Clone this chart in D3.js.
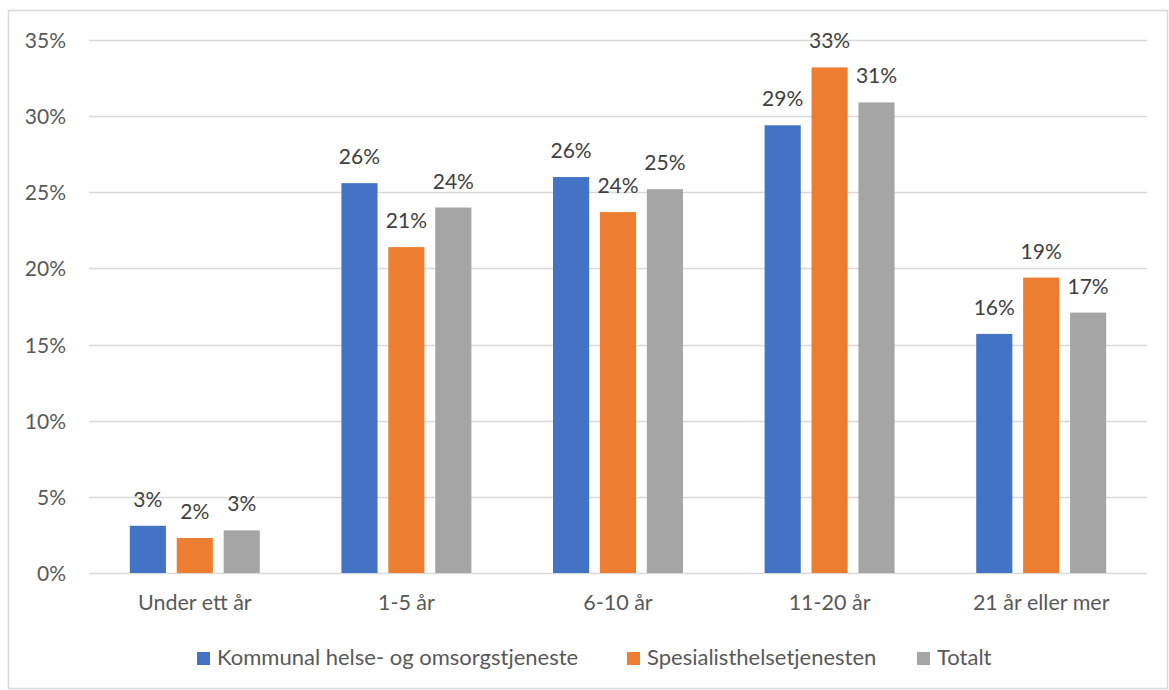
<!DOCTYPE html>
<html><head><meta charset="utf-8">
<script src="https://cdn.jsdelivr.net/npm/d3@7"></script>
<style>body{margin:0;background:#fff}svg{display:block}text{font-family:Lato,"Open Sans",sans-serif}</style>
</head><body>
<svg id="c" width="1169" height="690"></svg>
<script>
const categories = ["Under ett år","1-5 år","6-10 år","11-20 år","21 år eller mer"];
const seriesNames = ["Kommunal helse- og omsorgstjeneste","Spesialisthelsetjenesten","Totalt"];
const kommunal = [3.1, 25.6, 26.0, 29.4, 15.7];
const spesialist = [2.3, 21.4, 23.7, 33.2, 19.4];
const totalt = [2.8, 24.0, 25.2, 30.9, 17.1];
const yTicks = [0,5,10,15,20,25,30,35];
const colors = ["#4472C4","#ED7D31","#A5A5A5"];

const series = [kommunal, spesialist, totalt];
const svg = d3.select("#c");
svg.append("rect").attr("x",8.5).attr("y",10.5).attr("width",1159).attr("height",678)
  .attr("fill","#fff").attr("stroke","#d9d9d9").attr("stroke-width",1.5);

const x0 = d3.scaleBand().domain(categories).range([89,1147]).paddingInner(0).paddingOuter(0);
const y = d3.scaleLinear().domain([0,35]).range([573,40]);
const x1 = d3.scaleBand().domain([0,1,2]).range([0,x0.bandwidth()]).paddingInner(0.23).paddingOuter(0.87);

const g = svg.append("g");
g.selectAll("line.grid").data(yTicks).join("line")
  .attr("x1",89).attr("x2",1147).attr("y1",d=>Math.round(y(d))+0.5).attr("y2",d=>Math.round(y(d))+0.5)
  .attr("stroke","#d9d9d9").attr("stroke-width",1.3);
g.selectAll("text.yt").data(yTicks).join("text")
  .attr("x",66).attr("y",d=>y(d)+8).attr("text-anchor","end")
  .attr("font-size",21).attr("fill","#595959").text(d=>d+"%");

categories.forEach((c,i)=>{
  const gx = svg.append("g").attr("transform",`translate(${x0(c)},0)`);
  series.forEach((s,j)=>{
    gx.append("rect").attr("x",x1(j)).attr("width",x1.bandwidth())
      .attr("y",y(s[i])).attr("height",y(0)-y(s[i])).attr("fill",colors[j]);
    gx.append("text").attr("x",x1(j)+x1.bandwidth()/2).attr("y",y(s[i])-19)
      .attr("text-anchor","middle").attr("font-size",21).attr("fill","#404040")
      .text(Math.round(s[i])+"%");
  });
  svg.append("text").attr("x",x0(c)+x0.bandwidth()/2).attr("y",610)
    .attr("text-anchor","middle").attr("font-size",21.5).attr("fill","#595959").text(c);
});

const legX = [197,627,917];
seriesNames.forEach((n,j)=>{
  svg.append("rect").attr("x",legX[j]).attr("y",652).attr("width",13).attr("height",13).attr("fill",colors[j]);
  svg.append("text").attr("x",legX[j]+20).attr("y",665).attr("font-size",22).attr("fill","#595959").text(n);
});
</script>
</body></html>
